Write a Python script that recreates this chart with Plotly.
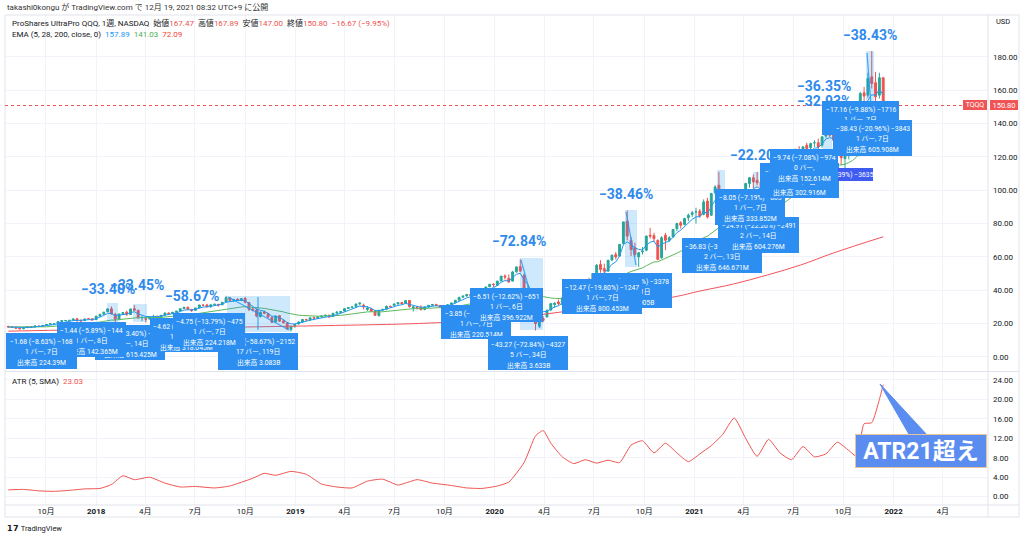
import plotly.graph_objects as go
import pandas as pd

# ---------------- data (weekly TQQQ) ----------------
start_week = "2017-07-24"

opens = [
    # 2017
    18.3,18.0,17.8,17.4,17.0,17.6,18.1,18.0,18.6,18.3,19.0,19.5,19.9,20.1,21.3,21.8,21.9,22.1,22.9,22.0,21.8,23.0,22.9,
    # 2018
    22.4,24.5,25.7,27.1,28.9, 25.5,22.8,25.9,26.8, 25.5,29.0,28.0,23.6, 23.0,22.8,24.1,24.3,23.9, 25.1,26.4,26.1,26.8,
    27.6,29.0,29.8,28.5, 28.0,29.5,31.1,31.2,30.2, 31.4,31.6,31.3,33.0, 35.5,34.0,34.6,34.0, 35.2,32.6,28.8,28.2,24.3,
    27.0,26.0,23.8,21.0, 24.8,21.6,20.4,16.6,18.5,
    # 2019
    19.8,21.0,22.4,22.2, 23.6,23.3,24.1,24.7, 25.1,24.2,26.3,26.7, 27.6,29.1,29.7,30.1,31.9, 31.0,28.5,28.8,27.6,
    24.8,28.2,28.7,30.4, 30.9,31.8,32.7,32.1,33.9, 29.4,30.0,29.9,28.5, 30.0,31.0,31.5,30.8,30.0, 30.3,31.5,32.5,34.1,
    35.9,36.6,37.5,37.2, 37.8,37.7,40.0,42.1,43.6,
    # 2020
    43.0,45.6,48.6,47.2, 45.5,51.1,54.2,49.0, 37.0,34.0,25.0,18.5,23.0, 24.0,28.2,31.5,33.0, 31.5,35.8,35.0,38.5,
    38.6,42.5,41.5,45.8,44.2, 50.5,55.5,53.0,51.5, 58.2,61.5,60.5,68.0,81.5, 70.0,65.5,60.0,63.0, 64.0,73.0,72.8,70.0,
    59.5,73.0,70.0,72.0,77.0, 80.5,79.5,83.5,85.5,
    # 2021
    87.0,87.5,85.5,93.5, 85.0,98.5,103.0,97.0, 88.5,79.0,89.0,86.0,88.0, 95.0,104.0,107.5,106.0, 105.0,96.5,90.0,96.0,100.5,
    103.5,106.0,107.5,115.0, 121.5,123.5,117.0,127.0, 125.5,128.5,128.5,127.0,132.5, 137.5,134.0,127.0,131.0,
    119.0,121.0,130.5,136.0, 147.0,158.5,157.0,168.0,164.5, 157.0,167.47,
]
highs = [
    18.8,18.4,18.0,17.9,17.7,18.4,18.4,18.7,18.8,19.0,19.6,20.0,20.2,21.4,21.9,22.2,22.2,22.9,23.4,22.4,23.0,23.3,23.0,
    24.6,25.7,27.0,29.3,30.3, 26.5,25.9,27.0,27.8, 29.0,31.1,28.3,24.9, 24.2,24.6,25.3,24.8,25.2, 26.5,26.7,27.0,27.6,
    29.1,30.0,30.3,28.9, 29.5,31.3,31.6,31.9,31.5, 32.0,31.8,33.0,36.7, 35.7,34.8,35.2,35.3, 35.9,33.0,30.0,29.3,27.5,
    28.0,26.4,24.2,24.8, 25.2,22.6,20.9,18.7,19.9,
    21.3,22.7,22.9,23.8, 24.2,24.2,24.8,25.5, 25.3,26.3,27.6,27.5, 29.1,29.8,30.2,31.9,32.8, 32.0,30.6,29.5,27.8,
    28.2,29.0,30.8,30.8, 32.0,32.8,33.0,34.0,34.2, 30.6,30.5,31.0,30.2, 31.2,31.8,31.9,31.1,30.5, 31.6,32.6,34.1,36.0,
    36.8,37.6,37.9,38.2, 38.1,40.0,42.1,43.8,44.2,
    45.7,48.6,49.5,49.5, 51.5,54.3,58.6,50.0, 43.5,36.5,30.0,25.5,24.5, 28.5,32.3,32.8,34.5, 35.8,36.5,37.8,39.0,
    42.3,46.0,46.0,47.5,50.2, 55.8,58.0,56.0,58.2, 61.5,63.0,67.8,81.2,87.8, 72.0,68.5,63.0,66.0, 72.8,77.5,74.5,70.5,
    72.5,74.5,72.5,76.8,80.5, 81.5,83.5,86.0,87.5,
    89.5,88.8,94.5,95.5, 98.5,103.0,111.0,98.5, 93.0,92.5,93.0,89.0,94.0, 104.5,108.0,109.5,111.0, 106.0,98.5,96.0,100.5,103.5,
    106.0,109.0,114.8,121.5, 125.0,126.5,126.5,128.5, 128.5,130.0,131.0,132.5,137.5, 140.0,136.0,132.0,132.0,
    124.0,130.5,136.0,147.0, 159.0,162.0,170.5,183.4,171.0, 170.5,167.89,
]
lows = [
    17.6,17.4,16.9,16.7,16.6,17.4,17.6,17.9,18.1,18.0,18.9,19.3,19.5,19.6,20.9,21.4,21.3,22.0,21.0,21.1,21.7,22.6,22.1,
    22.4,24.3,25.3,27.0,25.5, 20.2,22.0,25.2,24.6, 25.3,27.6,23.0,21.5, 20.7,22.5,23.8,22.6,23.0, 25.0,25.6,25.8,26.2,
    27.5,28.8,28.5,27.0, 27.6,29.4,30.5,29.8,29.5, 31.1,30.2,31.2,32.9, 33.6,33.0,33.7,33.6, 32.2,27.5,27.4,23.8,23.6,
    25.6,23.2,20.6,20.8, 21.0,20.1,16.5,15.2,17.5,
    19.5,20.6,21.6,21.5, 23.0,22.8,23.8,24.3, 23.5,24.1,26.0,26.0, 27.4,28.8,29.3,29.9,31.0, 28.5,27.6,27.0,24.6,
    24.3,27.8,28.5,29.5, 30.7,31.5,31.6,31.8,29.6, 27.3,28.5,28.1,28.0, 29.5,30.6,30.6,29.4,28.6, 29.6,31.2,32.4,33.8,
    35.6,36.2,36.6,37.0, 36.0,37.2,39.9,42.0,42.0,
    42.6,45.5,46.5,44.5, 45.3,50.5,50.8,37.0, 35.0,26.5,15.9,17.5,20.8, 23.8,27.5,29.5,31.0, 30.8,32.5,34.8,36.8,
    38.5,40.0,41.0,43.5,44.0, 50.3,50.5,50.0,51.0, 57.5,58.5,60.0,67.5,70.0, 60.5,60.0,54.0,61.5, 63.5,71.0,69.0,58.0,
    59.0,64.0,69.0,71.8,75.5, 77.0,79.0,81.5,84.0,
    80.0,83.5,85.0,83.0, 84.8,97.5,96.5,80.5, 74.2,76.5,83.5,80.5,86.5, 94.5,101.5,101.0,103.0, 94.5,86.5,87.5,95.5,97.5,
    101.5,104.0,105.5,114.5, 117.5,118.0,112.0,121.0, 123.0,126.0,120.5,125.5,131.5, 132.0,129.0,122.5,115.0,
    113.0,118.5,129.0,133.5, 145.5,150.0,155.5,161.0,144.9, 155.0,147.00,
]
closes = [
    18.0,17.8,17.3,16.9,17.5,18.2,17.9,18.6,18.3,18.9,19.5,19.9,20.0,21.2,21.8,21.9,22.0,22.8,22.0,21.6,22.8,22.9,22.2,
    24.5,25.6,26.9,28.8,25.8, 22.6,25.8,26.6,25.6, 28.8,28.0,23.4,23.6, 22.6,24.0,24.3,24.0,25.0, 26.4,26.0,26.8,27.5,
    29.0,29.8,28.6,28.0, 29.4,31.2,31.0,30.2,31.3, 31.6,31.2,32.8,35.6, 34.0,34.5,34.0,35.0, 32.8,28.6,28.0,24.5,26.8,
    26.2,24.0,20.8,24.5, 21.5,20.5,16.8,18.5,19.6,
    21.0,22.5,22.3,23.5, 23.3,24.0,24.6,25.0, 24.0,26.2,26.8,27.3, 29.0,29.6,30.0,31.8,32.3, 30.0,29.4,27.5,25.0,
    28.0,28.5,30.4,30.2, 31.8,32.6,32.0,33.8,30.2, 30.0,29.7,28.3,30.0, 31.0,31.5,30.8,30.0,30.3, 31.4,32.4,34.0,35.8,
    36.5,37.5,37.0,38.0, 37.6,39.8,42.0,43.6,43.4,
    45.5,48.5,48.0,45.0, 51.0,54.0,51.5,38.5, 37.5,30.0,20.0,23.8,22.0, 28.0,32.0,32.3,32.0, 35.5,34.0,37.5,38.5,
    42.0,42.5,45.5,44.0,50.0, 55.0,52.5,51.5,58.0, 61.0,60.0,67.5,81.0,72.5, 64.5,61.5,62.5,63.5, 72.5,72.5,71.0,58.5,
    71.5,70.0,71.5,76.5,80.0, 79.0,83.0,85.0,86.5,
    87.0,84.5,93.0,84.0, 98.0,102.0,97.5,87.0, 80.0,89.5,86.0,87.5,93.5, 104.0,107.5,105.0,104.5, 97.0,90.5,95.0,100.0,103.0,
    105.5,108.0,114.5,121.0, 123.0,119.0,126.0,125.0, 128.0,128.5,126.0,132.0,137.0, 133.0,130.0,130.5,119.5,
    120.5,130.0,135.5,146.5, 158.0,156.5,167.0,164.0,156.0, 167.5,150.80,
]

# EMA 200
ema200_dates = ["2017-07-24","2018-01-01","2018-06-01","2018-10-05","2019-01-01","2019-07-19","2019-09-23",
                "2020-01-06","2020-04-04","2020-07-13","2020-11-24","2021-01-12","2021-03-14","2021-05-15",
                "2021-07-15","2021-09-13","2021-12-13"]
ema200_vals = [15.5,16.5,17.3,18.0,18.5,19.8,20.6,21.8,25.8,30.0,36.0,39.6,43.8,49.2,55.2,62.4,72.09]

# ATR (5, SMA)
atr_dates = ["2017-07-24","2017-08-21","2017-09-18","2017-10-16","2017-11-13","2017-12-11","2018-01-08","2018-01-29",
             "2018-02-19","2018-03-12","2018-04-09","2018-05-07","2018-06-04","2018-07-02","2018-08-06","2018-09-03",
             "2018-10-15","2018-11-05","2018-11-26","2018-12-24","2019-01-21","2019-02-18","2019-03-18","2019-04-15",
             "2019-05-13","2019-06-10","2019-07-08","2019-08-12","2019-09-09","2019-10-14","2019-11-11","2019-12-09",
             "2020-01-06","2020-01-27","2020-02-24","2020-03-16","2020-03-30","2020-04-13","2020-05-04","2020-05-25",
             "2020-06-15","2020-07-06","2020-07-27","2020-08-17","2020-09-07","2020-09-28","2020-10-19","2020-11-09",
             "2020-11-30","2020-12-21","2021-01-11","2021-02-01","2021-02-22","2021-03-15","2021-04-05","2021-04-26",
             "2021-05-17","2021-06-07","2021-06-28","2021-07-19","2021-08-09","2021-08-30","2021-09-20","2021-10-11",
             "2021-10-25","2021-11-08","2021-11-22","2021-12-06","2021-12-13"]
atr_vals = [1.4,1.5,1.2,1.1,1.3,1.6,1.7,2.5,4.3,3.5,4.0,2.8,2.0,2.1,1.8,2.2,3.8,4.8,4.4,5.2,4.6,2.6,2.0,1.8,
            3.2,3.6,2.4,3.5,2.8,2.3,1.8,1.7,2.2,3.0,7.0,12.5,13.6,11.0,8.2,6.8,7.6,6.9,7.5,7.0,10.6,11.5,9.0,11.0,
            9.0,7.2,8.8,10.5,12.8,16.2,12.0,8.3,11.8,9.0,7.6,10.3,8.2,8.8,11.2,9.5,8.3,15.0,15.2,20.0,23.03]

price_ticks = [0, 20, 40, 60, 80, 100, 120, 140, 160, 180]
atr_ticks = [0, 4, 8, 12, 16, 20, 24]
time_ticks = ["2017-10-01","2018-01-01","2018-04-01","2018-07-01","2018-10-01","2019-01-01","2019-04-01",
              "2019-07-01","2019-10-01","2020-01-01","2020-04-01","2020-07-01","2020-10-01","2021-01-01",
              "2021-04-01","2021-07-01","2021-10-01","2022-01-01","2022-04-01"]
time_labels = ["10月","<b>2018</b>","4月","7月","10月","<b>2019</b>","4月","7月","10月","<b>2020</b>","4月","7月",
               "10月","<b>2021</b>","4月","7月","10月","<b>2022</b>","4月"]
last_price = 150.80

# ---------------- geometry helpers ----------------
W, H = 1024, 538
ML, MR, MT, MB = 5, 36, 15, 33
PW, PH = W - ML - MR, H - MT - MB
def fx(p): return (p - ML) / PW
def fy(p): return (H - MB - p) / PH

FONT = "Roboto, 'Noto Sans CJK JP', sans-serif"
GRID = "#f0f3fa"
FRAME = "#e0e3eb"
TXT = "#131722"
UP, DN = "#26a69a", "#ef5350"
BOX = "#2b8ef0"
PCT = "#2f8aea"

dates = pd.date_range(start_week, periods=len(closes), freq="7D")
cs = pd.Series(closes)
ema5 = cs.ewm(span=5, adjust=False).mean()
ema28 = cs.ewm(span=28, adjust=False).mean()

fig = go.Figure()
fig.add_trace(go.Candlestick(x=dates, open=opens, high=highs, low=lows, close=closes,
                             increasing=dict(line=dict(color=UP, width=1), fillcolor=UP),
                             decreasing=dict(line=dict(color=DN, width=1), fillcolor=DN),
                             whiskerwidth=0, showlegend=False, xaxis="x", yaxis="y"))
fig.add_trace(go.Scatter(x=ema200_dates, y=ema200_vals, mode="lines", line=dict(color="#f4525a", width=1, shape="spline"),
                         showlegend=False, xaxis="x", yaxis="y"))
fig.add_trace(go.Scatter(x=dates, y=ema28, mode="lines", line=dict(color="#5cb85c", width=1),
                         showlegend=False, xaxis="x", yaxis="y"))
fig.add_trace(go.Scatter(x=dates, y=ema5, mode="lines", line=dict(color="#2196f3", width=1),
                         showlegend=False, xaxis="x", yaxis="y"))
fig.add_trace(go.Scatter(x=atr_dates, y=atr_vals, mode="lines", line=dict(color="#ef5350", width=1, shape="spline", smoothing=0.5),
                         showlegend=False, xaxis="x2", yaxis="y2"))

x_range = ["2017-07-18", "2022-06-23"]
axfont = dict(family=FONT, size=8, color=TXT)
fig.update_layout(
    width=W, height=H, margin=dict(l=ML, r=MR, t=MT, b=MB),
    paper_bgcolor="white", plot_bgcolor="white", font=dict(family=FONT, color=TXT),
    showlegend=False,
    xaxis=dict(type="date", range=x_range, domain=[0, 1], anchor="y", tickvals=time_ticks, showticklabels=False,
               showgrid=True, gridcolor=GRID, zeroline=False, showline=False, ticks="",
               rangeslider=dict(visible=False), fixedrange=True),
    xaxis2=dict(type="date", range=x_range, domain=[0, 1], anchor="y2", matches="x", tickvals=time_ticks,
                ticktext=time_labels, tickfont=axfont, showgrid=True, gridcolor=GRID, zeroline=False,
                showline=False, ticks=""),
    yaxis=dict(domain=[fy(371), 1], range=[-8.4, 205.1], side="right", anchor="x", tickvals=price_ticks,
               tickformat=".2f", tickfont=axfont, showgrid=True, gridcolor=GRID, zeroline=False, ticks="",
               ticklabelstandoff=4),
    yaxis2=dict(domain=[0, fy(372)], range=[-1.71, 25.64], side="right", anchor="x2", tickvals=atr_ticks,
                tickformat=".2f", tickfont=axfont, showgrid=True, gridcolor=GRID, zeroline=False, ticks="",
                ticklabelstandoff=4),
)

shapes = []
def pline(x0, y0, x1, y1, color=FRAME, width=1, dash="solid"):
    shapes.append(dict(type="line", xref="paper", yref="paper", x0=fx(x0), y0=fy(y0), x1=fx(x1), y1=fy(y1),
                       line=dict(color=color, width=width, dash=dash), layer="above"))

# frame
pline(5, 15, 1019, 15); pline(5, 371.5, 1019, 371.5); pline(5, 505, 1019, 505); pline(5, 517, 1019, 517)
pline(5, 15, 5, 517); pline(988, 15, 988, 517); pline(1019, 15, 1019, 517)

# translucent range highlights
for (a, b, c, d) in [(107, 303, 118, 327), (133, 304, 147, 322), (227, 296, 290, 332), (520, 258, 543, 330),
                     (625, 210, 637, 267), (717, 170, 725, 190), (753, 172, 759, 188), (823, 128, 832, 155),
                     (866, 51, 874, 133)]:
    shapes.append(dict(type="rect", xref="paper", yref="paper", x0=fx(a), y0=fy(b), x1=fx(c), y1=fy(d),
                       fillcolor="rgba(33,150,243,0.22)", line=dict(width=0), layer="above"))
# arrows of the range tools
for (a, b, c, d) in [(228, 297, 289, 330), (258, 297, 258, 330), (521, 260, 540, 328), (626, 212, 636, 265),
                     (867, 53, 873, 130)]:
    pline(a, b, c, d, color="rgba(33,150,243,0.8)", width=1.2)

# current price line
shapes.append(dict(type="line", xref="paper", yref="y", x0=0, x1=fx(963), y0=last_price, y1=last_price,
                   line=dict(color="#ef5350", width=1, dash="dot"), layer="above"))
# ATR callout tail
t = [(910, 436), (928, 436), (880, 384)]
shapes.append(dict(type="path", xref="paper", yref="paper",
                   path="M {} {} L {} {} L {} {} Z".format(fx(t[0][0]), fy(t[0][1]), fx(t[1][0]), fy(t[1][1]), fx(t[2][0]), fy(t[2][1])),
                   fillcolor="#5b8df0", line=dict(color="#5b8df0", width=1), layer="above"))
fig.update_layout(shapes=shapes)

ann = []
def text(xp, yp, s, size=8, color=TXT, xanchor="left", bold=False):
    ann.append(dict(x=fx(xp), y=fy(yp), xref="paper", yref="paper", text=("<b>%s</b>" % s) if bold else s,
                    showarrow=False, xanchor=xanchor, yanchor="middle", font=dict(family=FONT, size=size, color=color)))

def red(s): return '<span style="color:#ef5350">%s</span>' % s

def panel(xc, yc, w, h, s, bg, size=7, bold=False, border=None):
    d = dict(x=fx(xc), y=fy(yc), xref="paper", yref="paper", text=("<b>%s</b>" % s) if bold else s,
             showarrow=False, xanchor="center", yanchor="middle", width=w, height=h, bgcolor=bg,
             borderpad=0, borderwidth=0, font=dict(family=FONT, size=size, color="white"))
    if border:
        d.update(bordercolor=border, borderwidth=1)
    ann.append(d)

text(5, 7, "takashi0kongu が TradingView.com で 12月 19, 2021 08:32 UTC+9 に公開", size=8, color="#333")
text(10, 23, "ProShares UltraPro QQQ, 1週, NASDAQ  始値" + red("167.47") + "  高値" + red("167.89") + "  安値" +
     red("147.00") + "  終値" + red("150.80") + "  " + red("−16.67 (−9.95%)"), size=8)
text(10, 34, 'EMA (5, 28, 200, close, 0)  <span style="color:#2196f3">157.89</span>  '
             '<span style="color:#4caf50">141.03</span>  <span style="color:#f44336">72.09</span>', size=8)
text(10, 381, "ATR (5, SMA)  " + red("23.03"), size=8)
text(1003, 22, "USD", size=7.5, xanchor="center")
text(5, 528, "<b>𝟭𝟳</b> TradingView", size=7.5, color="#131722")

# big percentage labels
for (xp, yp, s) in [(108, 289, "−33.40%"), (137, 285, "−33.45%"), (192, 296, "−58.67%"), (519, 241, "−72.84%"),
                    (626, 194, "−38.46%"), (757, 155, "−22.20%"), (824, 86, "−36.35%"), (824, 101, "−32.93%"),
                    (870, 35, "−38.43%")]:
    text(xp, yp, s, size=14, color=PCT, xanchor="center", bold=True)

def box(x0, y0, x1, y1, lines, color=BOX):
    panel((x0 + x1) / 2, (y0 + y1) / 2, x1 - x0, y1 - y0, " ", color, size=2)
    for i, s in enumerate(lines):
        text((x0 + x1) / 2, y0 + 8.7 + 10.5 * i, s, size=6.8, color="white", xanchor="center")

boxes = [
    (95, 325, 165, 360, ["−10.13 (−33.40%) −1013", "3 バー, 14日", "出来高 615.425M"]),
    (150, 318, 222, 352, ["−4.62 (−15.19%) −462", "1 バー, 7日", "出来高 318.045M"]),
    (218, 333, 298, 370, ["−21.52 (−58.67%) −2152", "17 バー, 119日", "出来高 3.083B"]),
    (173, 313, 245, 347, ["−4.75 (−13.79%) −475", "1 バー, 7日", "出来高 224.218M"]),
    (57, 322, 126, 357, ["−1.44 (−5.89%) −144", "1 バー, 8日", "出来高 142.365M"]),
    (6, 333, 77, 369, ["−1.68 (−8.63%) −168", "1 バー, 7日", "出来高 224.39M"]),
    (441, 305, 511, 339, ["−3.85 (−8.91%) −385", "1 バー, 7日", "出来高 220.514M"]),
    (470, 288, 543, 322, ["−6.51 (−12.62%) −651", "1 バー, 6日", "出来高 396.922M"]),
    (488, 336, 568, 370, ["−43.27 (−72.84%) −4327", "5 バー, 34日", "出来高 3.633B"]),
    (592, 273, 672, 308, ["−33.78 (−38.46%) −3378", "3 バー, 21日", "出来高 2.005B"]),
    (562, 279, 642, 314, ["−12.47 (−19.80%) −1247", "1 バー, 7日", "出来高 800.453M"]),
    (682, 238, 762, 273, ["−36.83 (−33.19%) −3683", "2 バー, 13日", "出来高 646.671M"]),
    (718, 217, 799, 253, ["−24.91 (−22.20%) −2491", "2 バー, 14日", "出来高 604.276M"]),
    (715, 189, 785, 225, ["−8.05 (−7.19%) −805", "1 バー, 7日", "出来高 333.852M"]),
    (760, 163, 839, 198, ["−10.13 (−7.15%) −1013", "1 バー, 7日", "出来高 302.916M"]),
]
for b in boxes:
    box(*b)
panel(836, 174.5, 73, 13, "−36.35 (−20.39%) −3635", "#3f5cf2", size=6.8)
for b in [
    (770, 149, 838, 184, ["−9.74 (−7.08%) −974", "0 バー,", "出来高 152.614M"]),
    (822, 101, 899, 135, ["−17.16 (−9.88%) −1716", "1 バー, 7日", "出来高 285.133M"]),
    (833, 120, 912, 156, ["−38.43 (−20.96%) −3843", "1 バー, 7日", "出来高 605.908M"]),
]:
    box(*b)

# price labels on axis
panel(975, 105, 24, 10, "TQQQ", "#f05454", size=7)
panel(1004, 105, 28, 10, "150.80", "#f05454", size=7.5)

# ATR callout
panel(921, 451, 130, 32, "ATR21超え", "#5b8df0", size=23, bold=True, border="#e9c39a")

fig.update_layout(annotations=ann)
fig.write_html("out.html")
